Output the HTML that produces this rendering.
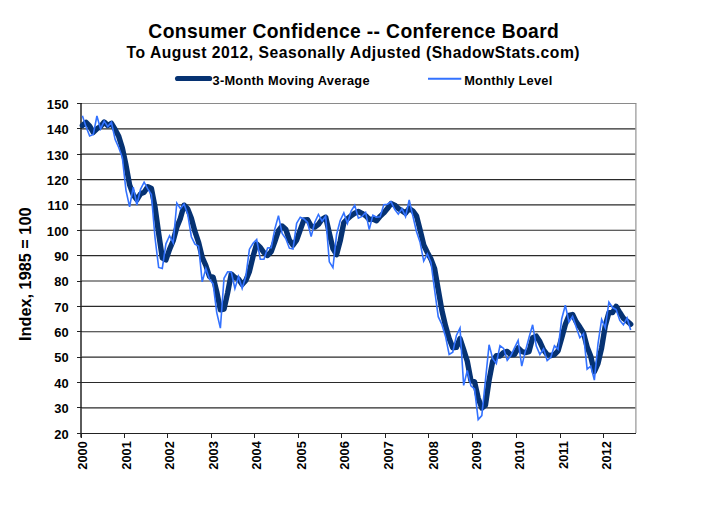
<!DOCTYPE html>
<html><head><meta charset="utf-8"><style>
html,body{margin:0;padding:0;background:#fff;width:720px;height:510px;overflow:hidden}
svg{display:block}
text{font-family:"Liberation Sans",Arial,sans-serif;font-weight:bold;fill:#000}
</style></head><body>
<svg width="720" height="510" viewBox="0 0 720 510">
<rect width="720" height="510" fill="#fff"/>
<text x="353.6" y="38.4" font-size="19.3" text-anchor="middle" textLength="410.5" lengthAdjust="spacing">Consumer Confidence -- Conference Board</text>
<text x="353.1" y="57.5" font-size="15.7" text-anchor="middle" textLength="453" lengthAdjust="spacing">To August 2012, Seasonally Adjusted (ShadowStats.com)</text>
<line x1="177.6" y1="78.5" x2="209.6" y2="78.5" stroke="#063272" stroke-width="5.2" stroke-linecap="round"/>
<text x="212.5" y="84.8" font-size="12.8" textLength="157" lengthAdjust="spacing">3-Month Moving Average</text>
<line x1="428" y1="78.7" x2="461.3" y2="78.7" stroke="#3372ff" stroke-width="2"/>
<text x="464.2" y="84.8" font-size="12.8" textLength="88" lengthAdjust="spacing">Monthly Level</text>
<text transform="translate(31.0,274.25) rotate(-90)" font-size="16.3" text-anchor="middle">Index, 1985 = 100</text>
<g stroke="#2a2a2a" stroke-width="1.15"><line x1="81.5" y1="407.881" x2="635.5" y2="407.881"/><line x1="81.5" y1="382.512" x2="635.5" y2="382.512"/><line x1="81.5" y1="357.14300000000003" x2="635.5" y2="357.14300000000003"/><line x1="81.5" y1="331.774" x2="635.5" y2="331.774"/><line x1="81.5" y1="306.405" x2="635.5" y2="306.405"/><line x1="81.5" y1="281.036" x2="635.5" y2="281.036"/><line x1="81.5" y1="255.66700000000003" x2="635.5" y2="255.66700000000003"/><line x1="81.5" y1="230.29800000000003" x2="635.5" y2="230.29800000000003"/><line x1="81.5" y1="204.929" x2="635.5" y2="204.929"/><line x1="81.5" y1="179.56" x2="635.5" y2="179.56"/><line x1="81.5" y1="154.191" x2="635.5" y2="154.191"/><line x1="81.5" y1="128.82200000000003" x2="635.5" y2="128.82200000000003"/></g>
<g stroke="#8a8a8a" stroke-width="1.1"><line x1="81.5" y1="103.45" x2="636.4" y2="103.45"/><line x1="635.9" y1="103.45" x2="635.9" y2="433.1"/></g>
<line x1="81.0" y1="103" x2="81.0" y2="437.5" stroke="#333" stroke-width="1.6"/>
<g stroke="#222" stroke-width="1" shape-rendering="crispEdges">
<line x1="77" y1="433.1" x2="636" y2="433.1"/>
<line x1="77" y1="433.25" x2="81.5" y2="433.25"/><line x1="77" y1="407.881" x2="81.5" y2="407.881"/><line x1="77" y1="382.512" x2="81.5" y2="382.512"/><line x1="77" y1="357.14300000000003" x2="81.5" y2="357.14300000000003"/><line x1="77" y1="331.774" x2="81.5" y2="331.774"/><line x1="77" y1="306.405" x2="81.5" y2="306.405"/><line x1="77" y1="281.036" x2="81.5" y2="281.036"/><line x1="77" y1="255.66700000000003" x2="81.5" y2="255.66700000000003"/><line x1="77" y1="230.29800000000003" x2="81.5" y2="230.29800000000003"/><line x1="77" y1="204.929" x2="81.5" y2="204.929"/><line x1="77" y1="179.56" x2="81.5" y2="179.56"/><line x1="77" y1="154.191" x2="81.5" y2="154.191"/><line x1="77" y1="128.82200000000003" x2="81.5" y2="128.82200000000003"/><line x1="77" y1="103.453" x2="81.5" y2="103.453"/><line x1="81.5" y1="433.1" x2="81.5" y2="437.5"/><line x1="124.5" y1="433.1" x2="124.5" y2="437.5"/><line x1="167.5" y1="433.1" x2="167.5" y2="437.5"/><line x1="211.5" y1="433.1" x2="211.5" y2="437.5"/><line x1="254.5" y1="433.1" x2="254.5" y2="437.5"/><line x1="298.5" y1="433.1" x2="298.5" y2="437.5"/><line x1="341.5" y1="433.1" x2="341.5" y2="437.5"/><line x1="385.5" y1="433.1" x2="385.5" y2="437.5"/><line x1="428.5" y1="433.1" x2="428.5" y2="437.5"/><line x1="472.5" y1="433.1" x2="472.5" y2="437.5"/><line x1="516.5" y1="433.1" x2="516.5" y2="437.5"/><line x1="560.5" y1="433.1" x2="560.5" y2="437.5"/><line x1="603.5" y1="433.1" x2="603.5" y2="437.5"/></g>
<g font-size="12.9" text-anchor="end" letter-spacing="0.3"><text x="69.1" y="438.6">20</text><text x="69.1" y="413.2">30</text><text x="69.1" y="387.8">40</text><text x="69.1" y="362.4">50</text><text x="69.1" y="337.1">60</text><text x="69.1" y="311.7">70</text><text x="69.1" y="286.3">80</text><text x="69.1" y="261.0">90</text><text x="69.1" y="235.6">100</text><text x="69.1" y="210.2">110</text><text x="69.1" y="184.9">120</text><text x="69.1" y="159.5">130</text><text x="69.1" y="134.1">140</text><text x="69.1" y="108.8">150</text></g>
<g font-size="12.8" text-anchor="end"><text transform="translate(87.2,441.2) rotate(-90)">2000</text><text transform="translate(130.8,441.2) rotate(-90)">2001</text><text transform="translate(174.2,441.2) rotate(-90)">2002</text><text transform="translate(217.5,441.2) rotate(-90)">2003</text><text transform="translate(261.3,441.2) rotate(-90)">2004</text><text transform="translate(305.6,441.2) rotate(-90)">2005</text><text transform="translate(349.0,441.2) rotate(-90)">2006</text><text transform="translate(393.0,441.2) rotate(-90)">2007</text><text transform="translate(437.5,441.2) rotate(-90)">2008</text><text transform="translate(480.8,441.2) rotate(-90)">2009</text><text transform="translate(524.2,441.2) rotate(-90)">2010</text><text transform="translate(567.5,441.2) rotate(-90)">2011</text><text transform="translate(610.5,441.2) rotate(-90)">2012</text></g>
<polyline points="82.40,125.46 86.03,122.25 89.66,126.14 93.29,132.39 96.92,128.84 100.56,126.47 104.19,121.99 107.82,125.54 111.45,123.34 115.08,129.43 118.71,136.37 122.34,148.12 125.97,165.12 129.60,184.91 133.23,194.80 136.87,199.71 140.50,193.87 144.13,192.18 147.76,186.77 151.39,188.54 155.02,207.06 158.65,233.28 162.28,257.88 165.91,259.91 169.54,249.34 173.18,240.80 176.81,227.19 180.44,218.14 184.07,205.20 187.70,208.92 191.33,218.31 194.96,231.67 198.59,242.33 202.22,257.38 205.85,265.50 209.49,276.49 213.12,277.17 216.75,291.88 220.38,309.81 224.01,309.05 227.64,292.72 231.27,274.04 234.90,277.42 238.53,279.03 242.16,284.52 245.79,280.55 249.43,271.41 253.06,256.36 256.69,244.02 260.32,247.40 263.95,252.73 267.58,255.52 271.21,251.63 274.84,241.48 278.47,230.74 282.11,226.00 285.74,229.22 289.37,240.04 293.00,245.20 296.63,240.13 300.26,229.81 303.89,219.83 307.52,219.58 311.15,226.00 314.78,227.10 318.41,224.40 322.05,219.24 325.68,217.21 329.31,233.02 332.94,248.58 336.57,254.67 340.20,240.89 343.83,222.62 347.46,218.90 351.09,215.77 354.73,213.24 358.36,211.54 361.99,213.32 365.62,215.69 369.25,219.49 372.88,219.07 376.51,220.68 380.14,216.36 383.77,212.90 387.40,208.58 391.03,203.60 394.67,205.12 398.30,208.42 401.93,210.70 405.56,213.15 409.19,208.42 412.82,210.87 416.45,215.77 420.08,229.89 423.71,244.95 427.35,252.47 430.98,259.15 434.61,268.79 438.24,289.68 441.87,310.40 445.50,325.87 449.13,338.47 452.76,347.69 456.39,347.35 460.02,338.56 463.65,349.64 467.29,361.31 470.92,380.59 474.55,381.77 478.18,398.18 481.81,408.07 485.44,405.19 489.07,380.25 492.70,361.31 496.33,355.72 499.97,355.98 503.60,352.51 507.23,351.41 510.86,354.71 514.49,354.54 518.12,347.94 521.75,351.50 525.38,352.60 529.01,351.58 532.64,337.80 536.27,336.11 539.91,341.77 543.54,349.81 547.17,354.63 550.80,355.56 554.43,354.54 558.06,350.82 561.69,338.05 565.32,324.52 568.95,315.39 572.58,314.54 576.22,321.90 579.85,327.14 583.48,332.89 587.11,346.85 590.74,356.32 594.37,371.79 598.00,363.34 601.63,347.78 605.26,325.79 608.89,312.60 612.53,312.51 616.16,306.42 619.79,312.51 623.42,318.26 627.05,321.05 630.68,324.27" fill="none" stroke="#063272" stroke-width="5.4" stroke-linejoin="round" stroke-linecap="round"/>
<polyline points="82.40,115.73 86.03,126.64 89.66,136.03 93.29,134.51 96.92,115.99 100.56,128.93 104.19,121.06 107.82,126.64 111.45,122.33 115.08,139.33 118.71,147.45 122.34,157.59 125.97,190.32 129.60,206.81 133.23,187.27 136.87,205.03 140.50,189.30 144.13,182.20 147.76,188.80 151.39,194.63 155.02,237.76 158.65,267.44 162.28,268.46 165.91,243.85 169.54,235.73 173.18,242.83 176.81,203.00 180.44,208.58 184.07,204.02 187.70,214.17 191.33,236.74 194.96,244.10 198.59,246.13 202.22,281.90 205.85,268.46 209.49,279.11 213.12,283.93 216.75,312.60 220.38,328.07 224.01,278.35 227.64,271.75 231.27,272.01 234.90,288.50 238.53,276.57 242.16,288.50 245.79,276.57 249.43,249.17 253.06,243.34 256.69,239.53 260.32,259.32 263.95,259.32 267.58,247.91 271.21,247.65 274.84,228.88 278.47,215.69 282.11,233.45 285.74,238.52 289.37,248.16 293.00,248.92 296.63,223.30 300.26,217.21 303.89,218.99 307.52,222.54 311.15,236.49 314.78,222.28 318.41,214.42 322.05,221.02 325.68,216.20 329.31,261.86 332.94,267.69 336.57,234.46 340.20,220.51 343.83,212.90 347.46,223.30 351.09,211.12 354.73,205.29 358.36,218.22 361.99,216.45 365.62,212.39 369.25,229.64 372.88,215.18 376.51,217.21 380.14,216.70 383.77,204.78 387.40,204.27 391.03,201.73 394.67,209.35 398.30,214.17 401.93,208.58 405.56,216.70 409.19,199.96 412.82,215.94 416.45,231.42 420.08,242.33 423.71,261.10 427.35,253.99 430.98,262.37 434.61,290.02 438.24,316.66 441.87,324.52 445.50,336.44 449.13,354.46 452.76,352.17 456.39,335.43 460.02,328.07 463.65,385.41 467.29,370.44 470.92,385.91 474.55,388.96 478.18,419.65 481.81,415.60 485.44,380.33 489.07,344.82 492.70,358.77 496.33,363.59 499.97,345.58 503.60,348.37 507.23,360.29 510.86,355.47 514.49,347.86 518.12,340.50 521.75,366.13 525.38,351.16 529.01,337.46 532.64,324.77 536.27,346.08 539.91,354.46 543.54,348.87 547.17,360.54 550.80,357.25 554.43,345.83 558.06,349.38 561.69,318.94 565.32,305.24 568.95,321.98 572.58,316.40 576.22,327.31 579.85,337.71 583.48,333.65 587.11,369.17 590.74,366.13 594.37,380.08 598.00,343.80 601.63,319.45 605.26,327.82 608.89,302.20 612.53,307.52 616.16,309.55 619.79,320.46 623.42,324.77 627.05,317.92 630.68,330.10" fill="none" stroke="#3372ff" stroke-width="1.6" stroke-linejoin="miter"/>
</svg>
</body></html>
